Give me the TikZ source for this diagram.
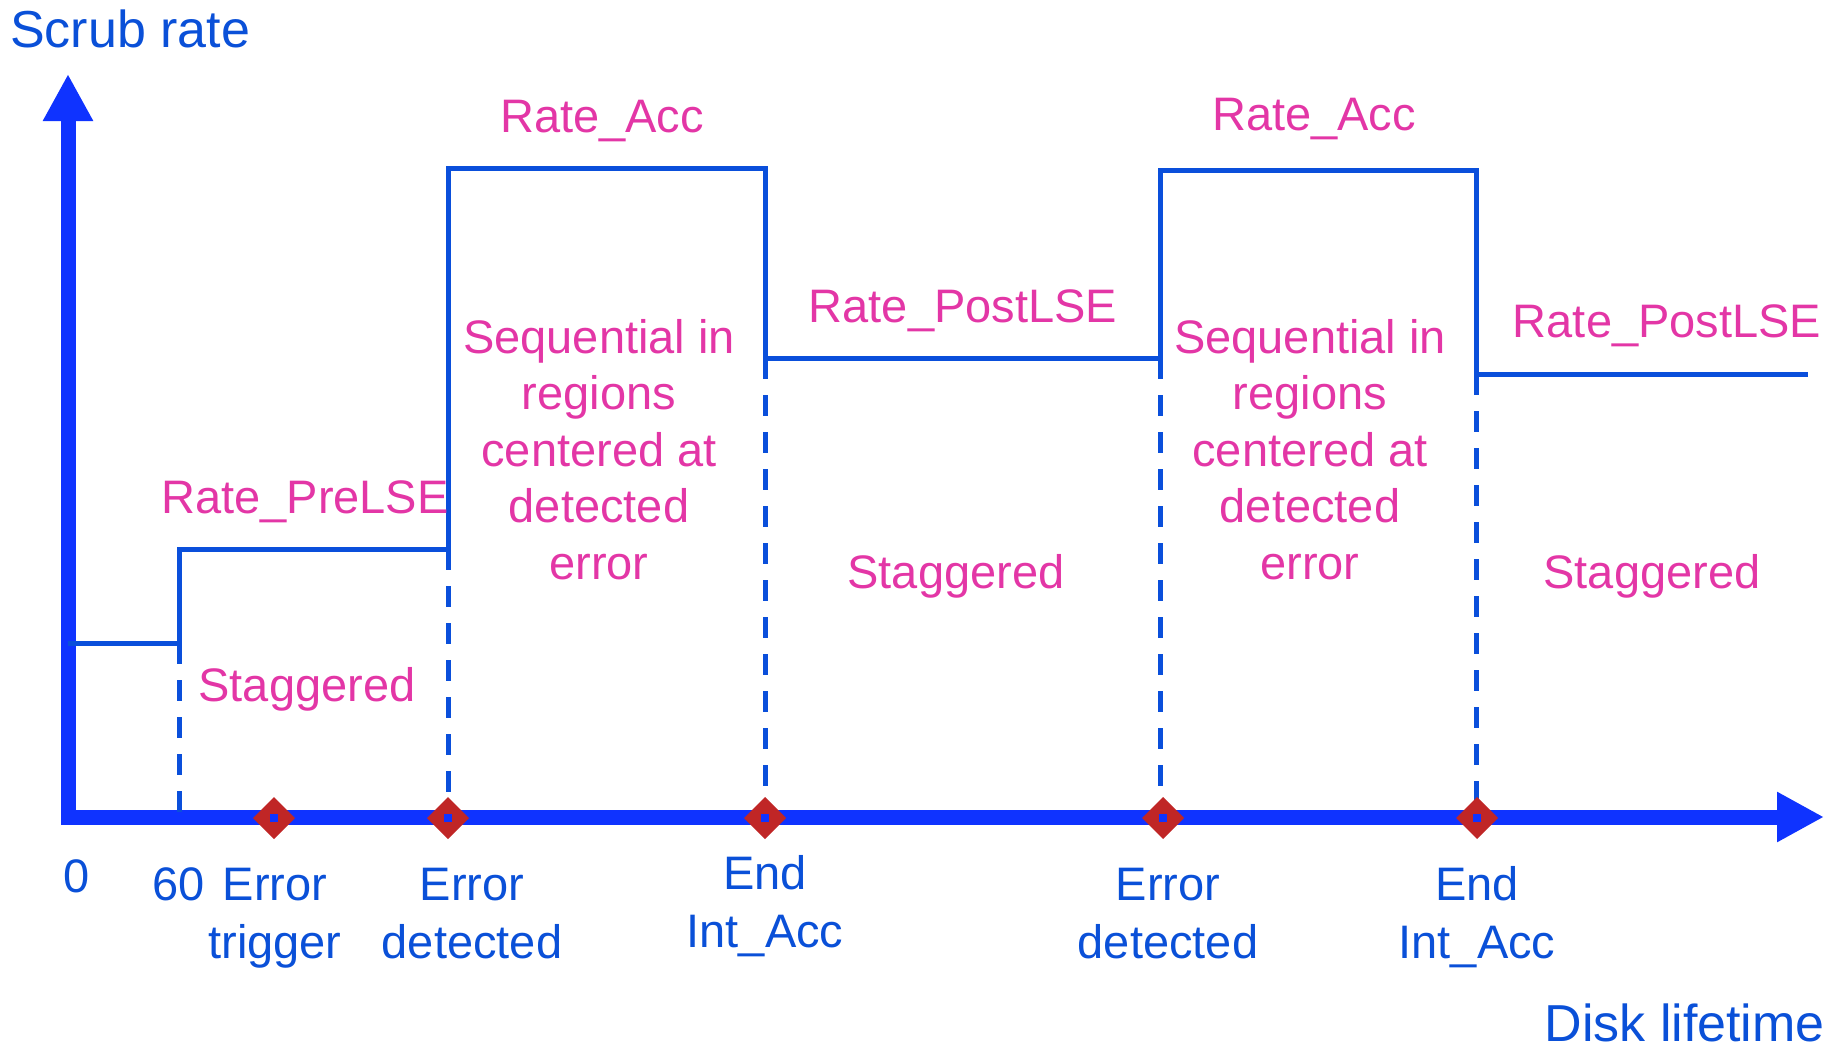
\documentclass[tikz,border=0pt]{standalone}
\usepackage{fontspec}
\setmainfont{Liberation Sans}
\usetikzlibrary{arrows.meta}
\definecolor{axisblue}{HTML}{0F33FF}
\definecolor{lineblue}{HTML}{0A4FDB}
\definecolor{textblue}{HTML}{0A50D8}
\definecolor{pinktext}{HTML}{E336A6}
\definecolor{markred}{HTML}{C02626}
\tikzset{
  axisline/.style={draw=axisblue, line width=15pt, -{Triangle[length=47pt,width=47pt]}},
  rateline/.style={draw=lineblue, line width=5pt, line join=miter},
  dashline/.style={draw=lineblue, line width=5pt, dash pattern=on 21pt off 16pt},
  axislabel/.style={text=textblue, inner sep=0pt, font=\fontsize{52}{60}\selectfont},
  ticklabel/.style={text=textblue, inner sep=0pt, align=center, font=\fontsize{47}{58}\selectfont},
  pinklabel/.style={text=pinktext, inner sep=0pt, align=center, font=\fontsize{47}{56.5}\selectfont},
  eventmark/.style={fill=markred, draw=none, rectangle, rotate=45, minimum size=29.7pt, inner sep=0pt},
  eventdot/.style={fill=axisblue, draw=none, rectangle, minimum size=8pt, inner sep=0pt},
}
\begin{document}
\begin{tikzpicture}[x=1pt, y=-1pt]
\useasboundingbox (0,0) rectangle (1841,1049);
% axes
\coordinate (ybot) at (68,824);
\coordinate (ytip) at (68,74);
\coordinate (xleft) at (61,817);
\coordinate (xtip) at (1824,817);
\draw[axisline] (ybot) -- (ytip);
\draw[axisline] (xleft) -- (xtip);
% rate step line
\coordinate (s0) at (68,643);
\coordinate (s1) at (179,643);
\coordinate (s2) at (179,549);
\coordinate (s3) at (448,549);
\coordinate (s4) at (448,168);
\coordinate (s5) at (765,168);
\coordinate (s6) at (765,358);
\coordinate (s7) at (1160,358);
\coordinate (s8) at (1160,170);
\coordinate (s9) at (1476,170);
\coordinate (s10) at (1476,374);
\coordinate (s11) at (1808,374);
\draw[rateline] (s0) -- (s1) -- (s2) -- (s3) -- (s4) -- (s5) -- (s6) -- (s7) -- (s8) -- (s9) -- (s10) -- (s11);
% dashed drops
\coordinate (d1) at (179,817);
\coordinate (d2) at (448,817);
\coordinate (d3) at (765,817);
\coordinate (d4) at (1160,817);
\coordinate (d5) at (1476,817);
\draw[dashline] (s1) -- (d1);
\draw[dashline] (s3) -- (d2);
\draw[dashline] (s6) -- (d3);
\draw[dashline] (s7) -- (d4);
\draw[dashline] (s10) -- (d5);
% event markers
\foreach \n/\x in {m1/274, m2/448, m3/765, m4/1163, m5/1477} {
  \node[eventmark] (\n) at (\x,818) {};
  \node[eventdot] (\n dot) at (\x,818) {};
}
% axis labels
\node[axislabel, anchor=base west] (ylab) at (10,48) {Scrub rate};
\node[axislabel, anchor=base east] (xlab) at (1825,1041) {Disk lifetime};
% tick labels (base anchor = baseline of last line)
\node[ticklabel, anchor=base] (t0) at (77,892) {0};
\node[ticklabel, anchor=base] (t60) at (179,900) {60};
\node[ticklabel, anchor=base] (trig) at (275,958) {Error\\trigger};
\node[ticklabel, anchor=base] (det1) at (472,958) {Error\\detected};
\node[ticklabel, anchor=base] (end1) at (765,947) {End\\Int\_Acc};
\node[ticklabel, anchor=base] (det2) at (1168,958) {Error\\detected};
\node[ticklabel, anchor=base] (end2) at (1477,958) {End\\Int\_Acc};
% pink labels
\node[pinklabel, anchor=base] (pre) at (305,513) {Rate\_PreLSE};
\node[pinklabel, anchor=base] (stag1) at (307,701) {Staggered};
\node[pinklabel, anchor=base] (acc1) at (602,132) {Rate\_Acc};
\node[pinklabel, anchor=base] (seq1) at (599,579) {Sequential in\\regions\\centered at\\detected\\error};
\node[pinklabel, anchor=base] (post1) at (963,322) {Rate\_PostLSE};
\node[pinklabel, anchor=base] (stag2) at (956,588) {Staggered};
\node[pinklabel, anchor=base] (acc2) at (1314,130) {Rate\_Acc};
\node[pinklabel, anchor=base] (seq2) at (1310,579) {Sequential in\\regions\\centered at\\detected\\error};
\node[pinklabel, anchor=base] (post2) at (1667,337) {Rate\_PostLSE};
\node[pinklabel, anchor=base] (stag3) at (1652,588) {Staggered};
\end{tikzpicture}
\end{document}
